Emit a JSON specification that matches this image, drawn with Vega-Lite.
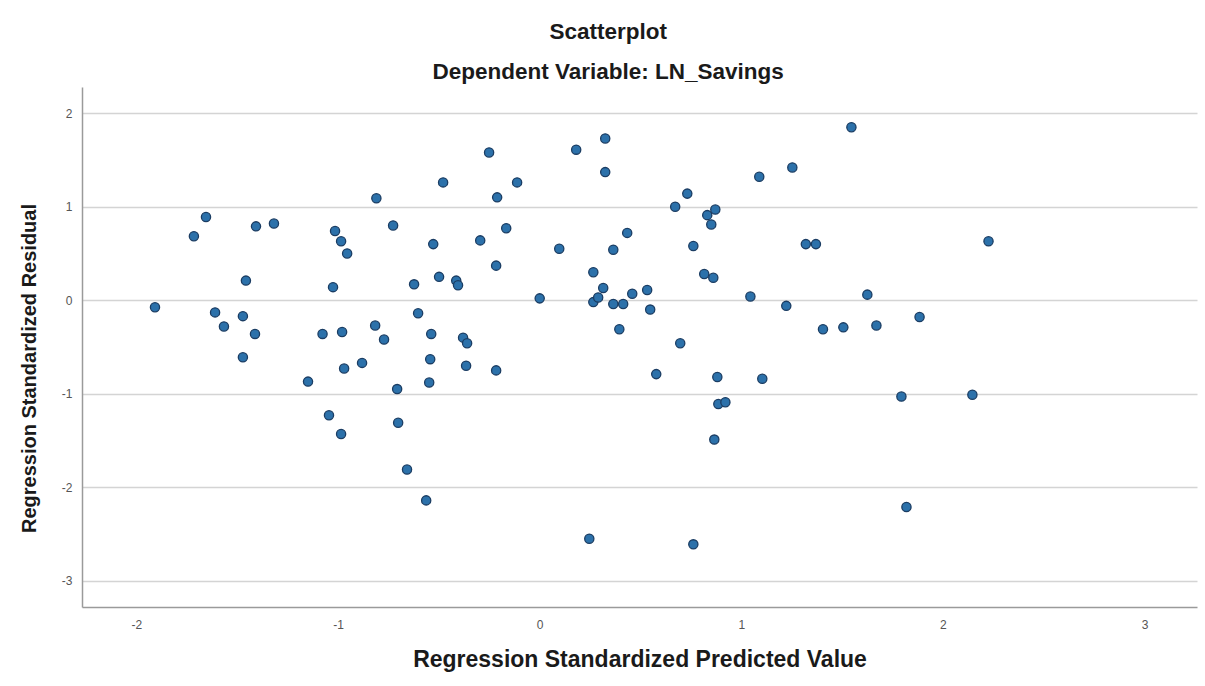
{
  "$schema": "https://vega.github.io/schema/vega-lite/v6.json",
  "width": 1115,
  "height": 520,
  "autosize": {"type": "none"},
  "padding": {"left": 82, "top": 87, "right": 8, "bottom": 79},
  "background": "white",
  "config": {
    "view": {"stroke": null},
    "font": "Liberation Sans"
  },
  "title": {
    "text": "Scatterplot",
    "subtitle": "Dependent Variable: LN_Savings",
    "anchor": "middle",
    "frame": "bounds",
    "font": "Liberation Sans",
    "fontSize": 22.5,
    "fontWeight": "bold",
    "color": "#1a1a1a",
    "subtitleFont": "Liberation Sans",
    "subtitleFontSize": 22.5,
    "subtitleFontWeight": "bold",
    "subtitleColor": "#1a1a1a",
    "subtitlePadding": 17,
    "offset": 4
  },
  "data": {
    "values": [
      {"pred": -1.908, "resid": -0.075},
      {"pred": -1.715, "resid": 0.685},
      {"pred": -1.655, "resid": 0.89},
      {"pred": -1.61, "resid": -0.13},
      {"pred": -1.566, "resid": -0.28},
      {"pred": -1.472, "resid": -0.17},
      {"pred": -1.457, "resid": 0.21},
      {"pred": -1.472, "resid": -0.61},
      {"pred": -1.412, "resid": -0.36},
      {"pred": -1.407, "resid": 0.79},
      {"pred": -1.318, "resid": 0.82},
      {"pred": -1.149, "resid": -0.87},
      {"pred": -1.077, "resid": -0.36},
      {"pred": -1.045, "resid": -1.23},
      {"pred": -1.025, "resid": 0.14},
      {"pred": -1.015, "resid": 0.74},
      {"pred": -0.985, "resid": 0.63},
      {"pred": -0.98, "resid": -0.34},
      {"pred": -0.985, "resid": -1.43},
      {"pred": -0.97, "resid": -0.73},
      {"pred": -0.955, "resid": 0.5},
      {"pred": -0.881, "resid": -0.67},
      {"pred": -0.816, "resid": -0.27},
      {"pred": -0.81, "resid": 1.09},
      {"pred": -0.772, "resid": -0.42},
      {"pred": -0.727, "resid": 0.8},
      {"pred": -0.707, "resid": -0.95},
      {"pred": -0.702, "resid": -1.31},
      {"pred": -0.658, "resid": -1.81},
      {"pred": -0.623, "resid": 0.17},
      {"pred": -0.603, "resid": -0.14},
      {"pred": -0.563, "resid": -2.14},
      {"pred": -0.548, "resid": -0.88},
      {"pred": -0.543, "resid": -0.63},
      {"pred": -0.538, "resid": -0.36},
      {"pred": -0.528, "resid": 0.6},
      {"pred": -0.499, "resid": 0.25},
      {"pred": -0.479, "resid": 1.26},
      {"pred": -0.414, "resid": 0.21},
      {"pred": -0.405, "resid": 0.16},
      {"pred": -0.38, "resid": -0.4},
      {"pred": -0.36, "resid": -0.46},
      {"pred": -0.365, "resid": -0.7},
      {"pred": -0.295, "resid": 0.64},
      {"pred": -0.251, "resid": 1.58},
      {"pred": -0.216, "resid": 0.37},
      {"pred": -0.216, "resid": -0.75},
      {"pred": -0.211, "resid": 1.1},
      {"pred": -0.166, "resid": 0.77},
      {"pred": -0.112, "resid": 1.26},
      {"pred": 0.0, "resid": 0.02},
      {"pred": 0.097, "resid": 0.55},
      {"pred": 0.181, "resid": 1.61},
      {"pred": 0.246, "resid": -2.55},
      {"pred": 0.266, "resid": 0.3},
      {"pred": 0.266, "resid": -0.02},
      {"pred": 0.29, "resid": 0.03},
      {"pred": 0.315, "resid": 0.13},
      {"pred": 0.325, "resid": 1.37},
      {"pred": 0.325, "resid": 1.73},
      {"pred": 0.365, "resid": 0.54},
      {"pred": 0.365, "resid": -0.04},
      {"pred": 0.414, "resid": -0.04},
      {"pred": 0.395, "resid": -0.31},
      {"pred": 0.434, "resid": 0.72},
      {"pred": 0.459, "resid": 0.07},
      {"pred": 0.533, "resid": 0.11},
      {"pred": 0.548, "resid": -0.1},
      {"pred": 0.578, "resid": -0.79},
      {"pred": 0.672, "resid": 1.0},
      {"pred": 0.697, "resid": -0.46},
      {"pred": 0.732, "resid": 1.14},
      {"pred": 0.762, "resid": 0.58},
      {"pred": 0.762, "resid": -2.61},
      {"pred": 0.831, "resid": 0.91},
      {"pred": 0.816, "resid": 0.28},
      {"pred": 0.851, "resid": 0.81},
      {"pred": 0.871, "resid": 0.97},
      {"pred": 0.861, "resid": 0.24},
      {"pred": 0.881, "resid": -0.82},
      {"pred": 0.866, "resid": -1.49},
      {"pred": 0.886, "resid": -1.11},
      {"pred": 0.921, "resid": -1.09},
      {"pred": 1.089, "resid": 1.32},
      {"pred": 1.045, "resid": 0.04},
      {"pred": 1.104, "resid": -0.84},
      {"pred": 1.223, "resid": -0.06},
      {"pred": 1.253, "resid": 1.42},
      {"pred": 1.32, "resid": 0.6},
      {"pred": 1.37, "resid": 0.6},
      {"pred": 1.405, "resid": -0.31},
      {"pred": 1.506, "resid": -0.29},
      {"pred": 1.546, "resid": 1.85},
      {"pred": 1.625, "resid": 0.06},
      {"pred": 1.67, "resid": -0.27},
      {"pred": 1.794, "resid": -1.03},
      {"pred": 1.819, "resid": -2.21},
      {"pred": 1.884, "resid": -0.18},
      {"pred": 2.146, "resid": -1.01},
      {"pred": 2.226, "resid": 0.63}
    ]
  },
  "mark": {
    "type": "point",
    "shape": "circle",
    "filled": true,
    "size": 85,
    "fill": "#2c71aa",
    "stroke": "#1b3d63",
    "strokeWidth": 1.3,
    "opacity": 1
  },
  "encoding": {
    "x": {
      "field": "pred",
      "type": "quantitative",
      "scale": {"domain": [-2.27, 3.26], "nice": false, "zero": false},
      "axis": {
        "title": "Regression Standardized Predicted Value",
        "values": [-2, -1, 0, 1, 2, 3],
        "labelExpr": "datum.value + ''",
        "grid": false,
        "ticks": false,
        "domainColor": "#9a9a9a",
        "domainWidth": 1.5,
        "labelFont": "Liberation Sans",
        "labelFontSize": 12,
        "labelColor": "#555555",
        "labelPadding": 12,
        "titleFont": "Liberation Sans",
        "titleFontSize": 23,
        "titleFontWeight": "bold",
        "titleColor": "#1a1a1a",
        "titlePadding": 18
      }
    },
    "y": {
      "field": "resid",
      "type": "quantitative",
      "scale": {"domain": [-3.28, 2.28], "nice": false, "zero": false},
      "axis": {
        "title": "Regression Standardized Residual",
        "values": [-3, -2, -1, 0, 1, 2],
        "labelExpr": "datum.value + ''",
        "grid": true,
        "gridColor": "#d4d4d4",
        "gridWidth": 1.5,
        "ticks": false,
        "domainColor": "#9a9a9a",
        "domainWidth": 1.5,
        "labelFont": "Liberation Sans",
        "labelFontSize": 12,
        "labelColor": "#555555",
        "labelPadding": 10,
        "titleFont": "Liberation Sans",
        "titleFontSize": 20,
        "titleFontWeight": "bold",
        "titleColor": "#1a1a1a",
        "titlePadding": 22,
        "titleY": 281
      }
    }
  }
}
